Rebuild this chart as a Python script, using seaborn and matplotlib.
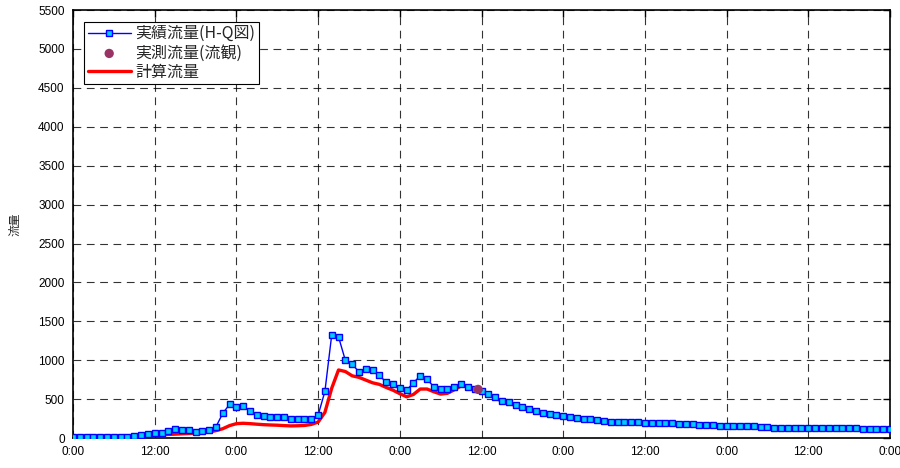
import seaborn as sns
import matplotlib.pyplot as plt
import pandas as pd

# 時刻（0:00 起点の経過時間 h）
hours = list(range(0, 121))

# 実績流量 (H-Q図)
jisseki = [10, 10, 10, 10, 10, 10, 10, 10, 10,
           30, 42, 55, 62, 62, 85, 115, 102, 98, 82, 90, 108, 145,
           318, 433, 402, 415, 345, 302, 282, 265, 265, 265, 248, 242, 242, 248, 292,
           600, 1325, 1300, 1000, 950, 850, 893, 870, 808, 714, 700, 645, 615, 710, 800,
           756, 658, 628, 628, 658, 692, 658, 628,
           602, 564, 530, 480, 458, 423, 393, 367, 346, 325, 308, 292, 282, 265, 260, 248,
           242, 230, 222, 210, 205, 205, 205, 205, 197, 197, 197, 188, 188, 180, 175, 175,
           167, 167, 167, 158, 154, 154, 154, 154, 150, 145, 137, 133, 128, 128, 128, 128,
           135, 135, 124, 124, 124, 124, 124, 124, 120, 120, 120, 120, 118]

# 計算流量
keisan = [0, 0, 0, 0, 0, 2, 4, 6, 10,
          15, 22, 30, 38, 42, 46, 50, 54, 58, 62, 68, 78, 95,
          120, 160, 185, 190, 185, 178, 172, 168, 165, 160, 156, 158, 162, 175, 205,
          330, 640, 875, 855, 800, 780, 745, 710, 690, 650, 615, 570, 530, 560, 630, 630,
          595, 565, 575, 620, 670, 665, 630,
          595, 555, 515, 475, 450, 415, 385, 360, 338, 318, 300, 285, 275, 260, 252, 242,
          235, 225, 218, 208, 203, 200, 200, 200, 194, 194, 192, 185, 185, 178, 172, 172,
          165, 165, 164, 156, 152, 152, 152, 151, 148, 143, 135, 131, 127, 126, 126, 126,
          131, 131, 122, 122, 122, 122, 122, 122, 118, 118, 118, 118, 116]

# 実測流量 (流観)
kansoku_t = [59.5]
kansoku_q = [625]

xticks = list(range(0, 121, 12))
xlabels = ['0:00' if t % 24 == 0 else '12:00' for t in xticks]
yticks = list(range(0, 5501, 500))

df = pd.DataFrame({'t': hours, 'jisseki': jisseki, 'keisan': keisan})
obs = pd.DataFrame({'t': kansoku_t, 'q': kansoku_q})

sns.set_style('white')
plt.rcParams['font.family'] = ['Liberation Sans', 'Noto Sans CJK JP', 'DejaVu Sans']

fig = plt.figure(figsize=(9, 4.68), dpi=100)
ax = fig.add_axes([0.0811, 0.064, 0.9078, 0.9145])

sns.lineplot(data=df, x='t', y='keisan', color='#ff0000', linewidth=2.4, ax=ax,
             label='計算流量', zorder=3)
sns.lineplot(data=df, x='t', y='jisseki', color='#0000ff', linewidth=1.0, marker='s',
             markersize=4.5, markerfacecolor='#00ccff', markeredgecolor='#0000ff',
             markeredgewidth=1.0, ax=ax, label='実績流量(H-Q図)', zorder=4)
sns.scatterplot(data=obs, x='t', y='q', color='#993366', s=45, edgecolor='none', ax=ax,
                label='実測流量(流観)', zorder=5)

ax.set_xlim(0, 120)
ax.set_ylim(0, 5500)
ax.set_xticks(xticks)
ax.set_xticklabels(xlabels)
ax.set_yticks(yticks)
ax.tick_params(labelsize=8.5, direction='in', length=5, width=1, top=True, right=True,
               pad=6, colors='black')
ax.grid(True, color='black', linestyle=(0, (7, 5)), linewidth=0.8, alpha=0.8)
for s in ax.spines.values():
    s.set_color('black')
    s.set_linewidth(1.2)

ax.set_xlabel('')
ax.set_ylabel('流量', fontsize=8.5, labelpad=12)

h, l = ax.get_legend_handles_labels()
order = [l.index('実績流量(H-Q図)'), l.index('実測流量(流観)'), l.index('計算流量')]
leg = ax.legend([h[i] for i in order], [l[i] for i in order], loc='upper left',
                bbox_to_anchor=(0.014, 0.972), frameon=True, fancybox=False,
                edgecolor='black', framealpha=1, borderpad=0.2, labelspacing=0.15,
                handlelength=2.7, handletextpad=0.3, borderaxespad=0,
                prop={'family': ['Noto Sans CJK JP', 'DejaVu Sans'], 'size': 11.5})
leg.get_frame().set_linewidth(0.8)

fig.savefig('out.png', dpi=100)
